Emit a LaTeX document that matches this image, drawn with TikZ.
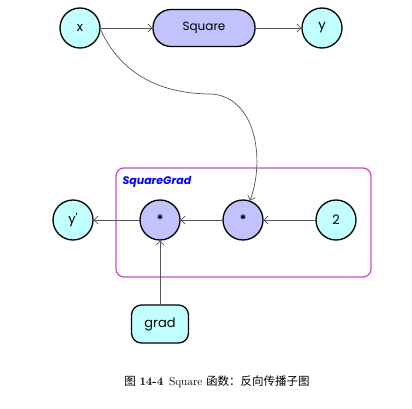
\documentclass[tikz,border=0pt]{standalone}
\usepackage{fontspec}
\newfontfamily\nodefont{Poppins}
\newfontfamily\cjk{Noto Sans CJK SC}
\usetikzlibrary{arrows.meta}
\definecolor{valfill}{HTML}{C2FFFF}
\definecolor{opfill}{HTML}{C2C2FF}
\definecolor{boxline}{HTML}{C84FC8}
\definecolor{edgegray}{HTML}{555555}
\tikzset{
  val/.style={circle,draw,line width=1.3pt,fill=valfill,minimum size=40pt,inner sep=0pt,font=\nodefont\fontsize{13}{15}\selectfont},
  op/.style={circle,draw,line width=1.3pt,fill=opfill,minimum size=40pt,inner sep=0pt,font=\nodefont\fontsize{13}{15}\selectfont\bfseries},
  flow/.style={edgegray,line width=0.7pt,-{Straight Barb[length=4pt,width=8pt]}}
}
\begin{document}
\begin{tikzpicture}[x=1pt,y=1pt]
    \useasboundingbox (0,0) rectangle (412,408);
    % forward graph
    \node [val] (x) at (80,380) {x};
    \node [draw,line width=1.3pt,fill=opfill,rounded corners=18pt,minimum width=102pt,minimum height=37pt,font=\nodefont\fontsize{12}{14}\selectfont] (sq) at (204,380) {Square};
    \node [val] (y) at (322,380) {y};
    \draw [flow] (x) -- (sq);
    \draw [flow] (sq) -- (y);
    % backward subgraph
    \draw [boxline,line width=1.3pt,rounded corners=8pt] (116,131) rectangle (371,240);
    \node [anchor=west,text=blue,font=\nodefont\fontsize{11}{13}\selectfont\bfseries\itshape] (lbl) at (119,226) {SquareGrad};
    \node [val] (yp) at (73,188) {y\textquotesingle};
    \node [op] (m1) at (160,188) {*};
    \node [op] (m2) at (243,188) {*};
    \node [val] (two) at (336,188) {2};
    \node [draw,line width=1.3pt,fill=valfill,rounded corners=10pt,minimum width=57pt,minimum height=38pt,font=\nodefont\fontsize{13}{15}\selectfont] (grad) at (160,84) {grad};
    \draw [flow] (two) -- (m2);
    \draw [flow] (m2) -- (m1);
    \draw [flow] (m1) -- (yp);
    \draw [flow] (grad) -- (m1);
    \coordinate (bend) at (212,314);
    \draw [flow] (x.-5) to[out=-65,in=180] (bend) to[out=-5,in=70] (m2);
    % caption
    \node [font=\fontsize{11.5}{13}\selectfont] (cap) at (217,26) {{\cjk 图} \textbf{14-4}\enspace Square {\cjk 函数：反向传播子图}};
\end{tikzpicture}
\end{document}
